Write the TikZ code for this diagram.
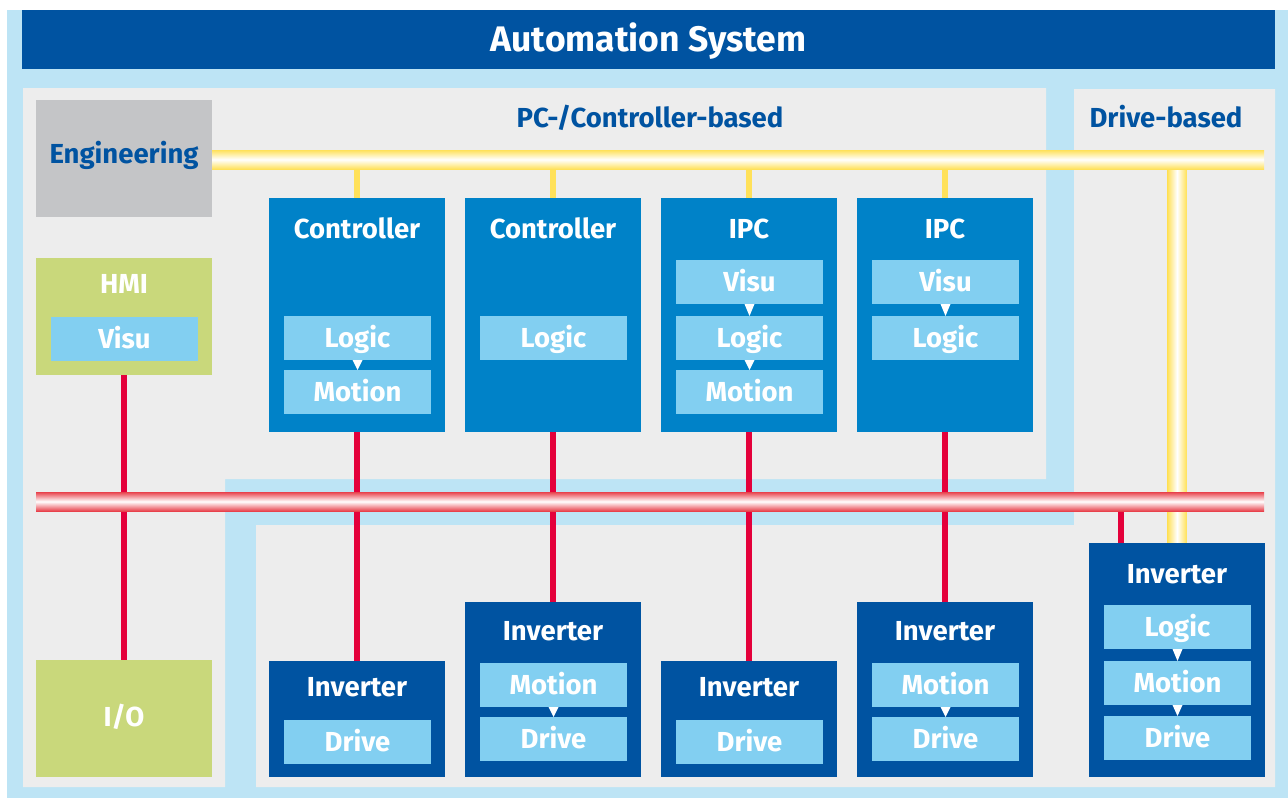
\documentclass[tikz,border=0pt]{standalone}
\usepackage{fontspec}
\setmainfont{Fira Sans}
\definecolor{lblue}{HTML}{BDE4F5}
\definecolor{bggray}{HTML}{EDEDED}
\definecolor{dblue}{HTML}{0053A1}
\definecolor{mblue}{HTML}{0082C8}
\definecolor{sblue}{HTML}{82CFF1}
\definecolor{egray}{HTML}{C4C5C7}
\definecolor{hgreen}{HTML}{C9D87B}
\definecolor{wred}{HTML}{E4003A}
\definecolor{bred}{HTML}{E8414B}
\definecolor{byel}{HTML}{FFE15A}
\newcommand\lbl{\fontsize{27.5pt}{30pt}\selectfont\bfseries}
\newcommand\titlefnt{\fontsize{35.5pt}{38pt}\selectfont\bfseries}
\newcommand\dntri[2]{\fill[white] ([xshift=-5pt]#1.south) -- ([xshift=5pt]#1.south) -- (#2.north) -- cycle;}
\pgfdeclarelayer{bg}
\pgfdeclarelayer{wires}
\pgfsetlayers{bg,wires,main}
\tikzset{
  blk/.style={inner sep=0pt, outer sep=0pt, anchor=north west, minimum width=176pt},
  ctl/.style={blk, fill=mblue},
  inv/.style={blk, fill=dblue},
  sub/.style={inner sep=0pt, outer sep=0pt, anchor=north west, minimum width=147pt, minimum height=44pt, fill=sblue, text=white, font=\lbl, text height=19pt, text depth=0pt},
  ttl/.style={inner sep=0pt, text=white, font=\lbl, text height=19pt, text depth=0pt},
  hdr/.style={inner sep=0pt, text=dblue, font=\lbl, text height=19pt, text depth=0pt},
  bus/.style={inner sep=0pt, outer sep=0pt, anchor=north west, minimum height=19pt},
  ywire/.style={draw=byel, line width=6pt},
  rwire/.style={draw=wred, line width=6pt},
}
\begin{document}
\begin{tikzpicture}[x=1pt,y=-1pt]
\useasboundingbox (0,0) rectangle (1288,798);
\begin{pgfonlayer}{bg}
\fill[white] (0,0) rectangle (1288,798);
\fill[lblue] (7,10) rectangle (1288,798);
\fill[bggray] (23,88) -- (1046,88) -- (1046,479) -- (225,479) -- (225,787) -- (23,787) -- cycle;
\fill[bggray] (1074,89) -- (1275,89) -- (1275,787) -- (256,787) -- (256,525) -- (1074,525) -- cycle;
\end{pgfonlayer}

% header
\node[inner sep=0pt, outer sep=0pt, anchor=north west, minimum width=1253pt, minimum height=59pt, fill=dblue, text=white, font=\titlefnt, text height=24pt, text depth=0pt] (head) at (22,10) {Automation System};
\node[hdr] (pct) at (650,118) {PC-/Controller-based};
\node[hdr] (dbt) at (1166,118) {Drive-based};

% left column
\node[blk, fill=egray, minimum height=117pt, text=dblue, font=\lbl, text height=19pt, text depth=9pt] (eng) at (36,100) {Engineering};
\node[blk, fill=hgreen, minimum height=117pt] (hmi) at (36,258) {};
\node[ttl] (hmit) at (124,284) {HMI};
\node[sub] (hmiv) at (51,317) {Visu};
\node[blk, fill=hgreen, minimum height=117pt, text=white, font=\lbl, text height=19pt, text depth=3pt] (io) at (36,660) {I/O};

% controllers
\node[ctl, minimum height=234pt] (c1) at (269,198) {};
\node[ttl] (c1t) at (357,229) {Controller};
\node[sub] (c1l) at (284,316) {Logic};
\node[sub] (c1m) at (284,370) {Motion};
\dntri{c1l}{c1m}

\node[ctl, minimum height=234pt] (c2) at (465,198) {};
\node[ttl] (c2t) at (553,229) {Controller};
\node[sub] (c2l) at (480,316) {Logic};

\node[ctl, minimum height=234pt] (c3) at (661,198) {};
\node[ttl] (c3t) at (749,229) {IPC};
\node[sub] (c3v) at (676,260) {Visu};
\node[sub] (c3l) at (676,316) {Logic};
\node[sub] (c3m) at (676,370) {Motion};
\dntri{c3v}{c3l}
\dntri{c3l}{c3m}

\node[ctl, minimum height=234pt] (c4) at (857,198) {};
\node[ttl] (c4t) at (945,229) {IPC};
\node[sub] (c4v) at (872,260) {Visu};
\node[sub] (c4l) at (872,316) {Logic};
\dntri{c4v}{c4l}

% inverters
\node[inv, minimum height=116pt] (i1) at (269,661) {};
\node[ttl] (i1t) at (357,687) {Inverter};
\node[sub] (i1d) at (284,720) {Drive};

\node[inv, minimum height=175pt] (i2) at (465,602) {};
\node[ttl] (i2t) at (553,631) {Inverter};
\node[sub] (i2m) at (480,663) {Motion};
\node[sub] (i2d) at (480,717) {Drive};
\dntri{i2m}{i2d}

\node[inv, minimum height=116pt] (i3) at (661,661) {};
\node[ttl] (i3t) at (749,687) {Inverter};
\node[sub] (i3d) at (676,720) {Drive};

\node[inv, minimum height=175pt] (i4) at (857,602) {};
\node[ttl] (i4t) at (945,631) {Inverter};
\node[sub] (i4m) at (872,663) {Motion};
\node[sub] (i4d) at (872,717) {Drive};
\dntri{i4m}{i4d}

\node[inv, minimum height=234pt] (i5) at (1089,543) {};
\node[ttl] (i5t) at (1177,574) {Inverter};
\node[sub] (i5l) at (1104,605) {Logic};
\node[sub] (i5m) at (1104,661) {Motion};
\node[sub] (i5d) at (1104,716) {Drive};
\dntri{i5l}{i5m}
\dntri{i5m}{i5d}

% buses
\node[bus, top color=byel, bottom color=byel, middle color=white, minimum width=1052pt] (ybus) at (212,150) {};
\node[bus, top color=bred, bottom color=bred, middle color=white, minimum width=1228pt] (rbus) at (36,492) {};

\begin{pgfonlayer}{wires}
\foreach \c in {c1,c2,c3,c4} \draw[ywire] (\c.north) -- (\c.north |- ybus.south);
\draw[rwire] (hmi.south) -- (io.north);
\draw[rwire] (c1.south) -- (i1.north);
\draw[rwire] (c2.south) -- (i2.north);
\draw[rwire] (c3.south) -- (i3.north);
\draw[rwire] (c4.south) -- (i4.north);
\coordinate (rw5) at ([xshift=-56pt]i5.north);
\draw[rwire] (rw5) -- (rw5 |- rbus.south);
\coordinate (dtop) at (ybus.south -| i5.north);
\shade[left color=byel, right color=byel, middle color=white] ([xshift=-9.5pt]dtop) rectangle ([xshift=9.5pt]i5.north);
\end{pgfonlayer}
\end{tikzpicture}
\end{document}
